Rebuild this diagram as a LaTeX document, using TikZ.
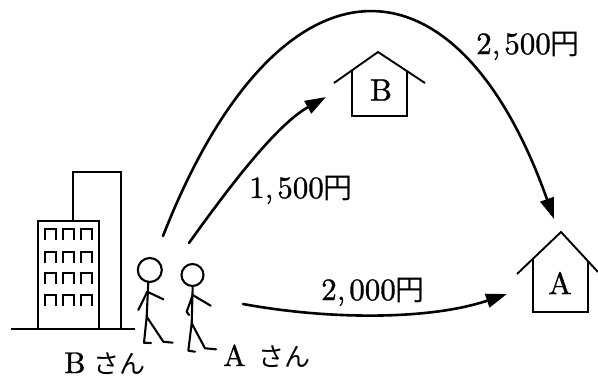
\documentclass[tikz,border=0pt]{standalone}
\usepackage{fontspec}
\newfontfamily\jpfont{Noto Sans CJK JP}
\newfontfamily\romfont{lmroman10-regular.otf}[FakeBold=1.0]
\usetikzlibrary{arrows.meta}

\tikzset{
  route/.style={line width=2.6pt, line cap=round, -{Triangle[length=21pt,width=14pt]}},
  houseline/.style={line width=1.9pt, line join=miter},
  bldg/.style={line width=1.6pt},
  figure/.style={line width=2.1pt, line cap=round, line join=round},
  price/.style={inner sep=0pt, anchor=base west, font=\romfont\fontsize{31}{31}\selectfont},
  houseletter/.style={inner sep=0pt, font=\romfont\fontsize{31}{31}\selectfont},
  person/.style={inner sep=0pt, anchor=base west, font=\romfont\fontsize{30}{30}\selectfont},
}
\newcommand{\yenmark}{{\jpfont\fontsize{29}{29}\selectfont 円}}
\newcommand{\sanmark}{{\jpfont\fontsize{26}{26}\selectfont さん}}

\begin{document}
\begin{tikzpicture}[x=1pt,y=-1pt]
\useasboundingbox (0,0) rectangle (598,378);

% ground and office buildings
\draw[line width=2.4pt] (11,329) -- (135,329);
\draw[bldg] (73,221) -- (73,172) -- (121,172) -- (121,329);
\draw[bldg] (38,329) -- (38,221) -- (99,221) -- (99,329);
\foreach \wx in {45,63,81}
  \foreach \wy in {229,252,273,295}
    \draw[bldg] (\wx,\wy+11) -- (\wx,\wy) -- (\wx+11,\wy) -- (\wx+11,\wy+11);

% person B
\draw[figure] (149.8,270) circle (12);
\draw[figure] (148.3,282) -- (146.7,316.7);
\draw[figure] (163.3,299.3) -- (147.3,291.7) -- (138.3,310);
\draw[figure] (151,343) -- (144,342.7) -- (146.7,316.7) -- (163.3,341.7) -- (172.7,342.7);

% person A
\draw[figure] (192.5,275) circle (11);
\draw[figure] (192.7,286) -- (191.7,323.3);
\draw[figure] (210.7,305.7) -- (192.7,295) -- (186.7,311.7) -- (189,315);
\draw[figure] (195,351.7) -- (188.3,350.7) -- (191.7,323.3) -- (205,348.3) -- (216,349.3);

% house B
\draw[houseline] (334,83) -- (378,52) -- (425,83);
\draw[houseline] (352,70.3) -- (352,116) -- (407,116) -- (407,71.1);
\node[houseletter] (houseB) at (381,90) {B};

% house A
\draw[houseline] (517,274) -- (561,232) -- (598,272);
\draw[houseline] (533,259) -- (533,312) -- (588,312) -- (588,261);
\node[houseletter] (houseA) at (560,283) {A};

% arrow end points
\coordinate (startB) at (163,236);
\coordinate (startA) at (189,243);
\coordinate (startLow) at (243,304);
\coordinate (tipHigh) at (554,219);
\coordinate (tipB) at (326,97);
\coordinate (tipLow) at (507,294);

% routes
\draw[route] (startB) .. controls (277,-55) and (455,-60) .. (tipHigh);
\draw[route] (startA) .. controls (234,180) and (278,124) .. (tipB);
\draw[route] (startLow) .. controls (330,320) and (430,320) .. (tipLow);

% fares
\node[price] (fareHigh) at (476,54) {2,\kern4pt 500\yenmark};
\node[price] (fareB) at (249,198) {1,\kern4pt 500\yenmark};
\node[price] (fareLow) at (321,300) {2,\kern4pt 000\yenmark};

% names
\node[person] (nameB) at (64,373) {\makebox[29pt][l]{B}\sanmark};
\node[person] (nameA) at (223,366) {\makebox[35pt][l]{A}\sanmark};
\end{tikzpicture}
\end{document}
